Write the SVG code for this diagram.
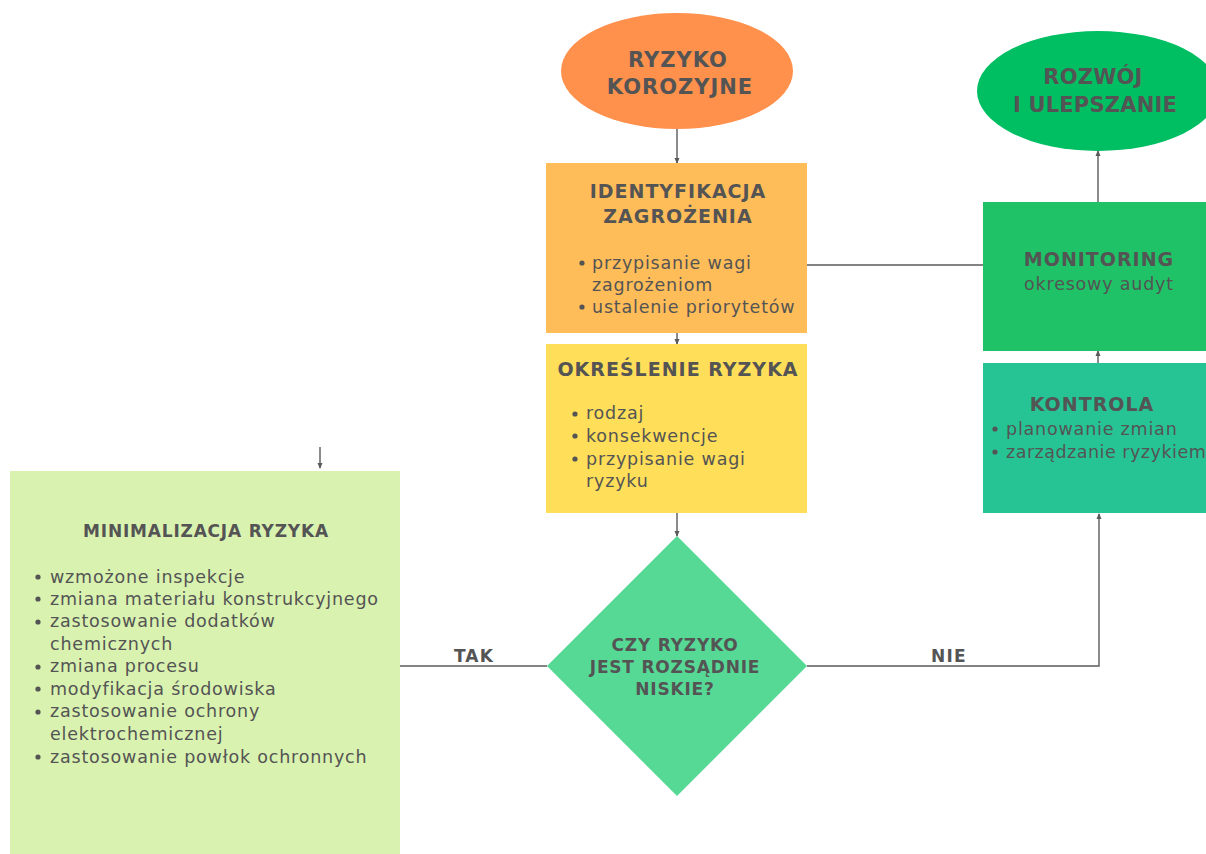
<svg xmlns="http://www.w3.org/2000/svg" width="1206" height="854" viewBox="0 0 1206 854">
  <style>
    text { font-family: "DejaVu Sans", "Open Sans", sans-serif; fill: #545454; }
    .h { font-weight: bold; text-anchor: middle; }
    .big { font-size: 21px; letter-spacing: 1px; }
    .big2 { font-size: 21px; letter-spacing: 0.2px; }
    .mid { font-size: 19px; letter-spacing: 1px; }
    .sm { font-size: 17px; letter-spacing: 0.8px; }
    .b { font-size: 17.5px; letter-spacing: 0.8px; }
    .lbl { font-size: 17px; letter-spacing: 1.2px; font-weight: bold; text-anchor: middle; }
    .conn { fill: none; stroke: #5a5a5a; stroke-width: 1.4; }
    .dot { fill: #545454; }
  </style>
  <defs>
    <marker id="arr" viewBox="0 0 6 6" refX="5" refY="3" markerWidth="6" markerHeight="6" orient="auto" markerUnits="userSpaceOnUse">
      <path d="M0,0.5 L6,3 L0,5.5 Z" fill="#5a5a5a"/>
    </marker>
  </defs>
  <rect width="1206" height="854" fill="#ffffff"/>

  <!-- connectors -->
  <g id="connectors">
    <line class="conn" x1="677" y1="129" x2="677" y2="163" marker-end="url(#arr)"/>
    <line class="conn" x1="677" y1="333" x2="677" y2="344" marker-end="url(#arr)"/>
    <line class="conn" x1="677" y1="513" x2="677" y2="536" marker-end="url(#arr)"/>
    <line class="conn" x1="320" y1="447" x2="320" y2="468" marker-end="url(#arr)"/>
    <line class="conn" x1="400" y1="666" x2="547" y2="666"/>
    <polyline class="conn" points="807,666 1099,666 1099,514" marker-end="url(#arr)"/>
    <line class="conn" x1="1098" y1="363" x2="1098" y2="351" marker-end="url(#arr)"/>
    <line class="conn" x1="807" y1="265" x2="983" y2="265"/>
    <line class="conn" x1="1098" y1="202" x2="1098" y2="151" marker-end="url(#arr)"/>
    <text class="lbl" x="474" y="662">TAK</text>
    <text class="lbl" x="949" y="662">NIE</text>
  </g>

  <g id="ryzyko-korozyjne">
    <ellipse cx="677" cy="71" rx="116" ry="58" fill="#FF914D"/>
    <text class="h big" x="678" y="67">RYZYKO</text>
    <text class="h big" x="680" y="94">KOROZYJNE</text>
  </g>

  <g id="rozwoj">
    <ellipse cx="1098" cy="91" rx="121" ry="60" fill="#00BF63"/>
    <text class="h big2" x="1093" y="84">ROZWÓJ</text>
    <text class="h big2" x="1095" y="112">I ULEPSZANIE</text>
  </g>

  <g id="identyfikacja">
    <rect x="546" y="163" width="261" height="170" fill="#FFBD59"/>
    <text class="h mid" x="678" y="198">IDENTYFIKACJA</text>
    <text class="h mid" x="678" y="223">ZAGROŻENIA</text>
    <circle class="dot" cx="582" cy="263" r="2.6"/>
    <text class="b" x="592" y="269">przypisanie wagi</text>
    <text class="b" x="592" y="291">zagrożeniom</text>
    <circle class="dot" cx="582" cy="307" r="2.6"/>
    <text class="b" x="592" y="313">ustalenie priorytetów</text>
  </g>

  <g id="okreslenie">
    <rect x="546" y="344" width="261" height="169" fill="#FFDE59"/>
    <text class="h mid" x="678" y="376">OKREŚLENIE RYZYKA</text>
    <circle class="dot" cx="575" cy="414" r="2.6"/>
    <text class="b" x="586" y="419">rodzaj</text>
    <circle class="dot" cx="575" cy="436" r="2.6"/>
    <text class="b" x="586" y="442">konsekwencje</text>
    <circle class="dot" cx="575" cy="459" r="2.6"/>
    <text class="b" x="586" y="465">przypisanie wagi</text>
    <text class="b" x="586" y="487">ryzyku</text>
  </g>

  <g id="decyzja">
    <polygon points="677,536 807,666 677,796 547,666" fill="#57D996"/>
    <text class="h sm" x="675" y="651">CZY RYZYKO</text>
    <text class="h sm" x="675" y="673">JEST ROZSĄDNIE</text>
    <text class="h sm" x="675" y="695">NISKIE?</text>
  </g>

  <g id="minimalizacja">
    <rect x="10" y="471" width="390" height="383" fill="#D9F2B0"/>
    <text class="h sm" x="206" y="537">MINIMALIZACJA RYZYKA</text>
    <circle class="dot" cx="38" cy="577" r="2.6"/>
    <text class="b" x="50" y="583">wzmożone inspekcje</text>
    <circle class="dot" cx="38" cy="599" r="2.6"/>
    <text class="b" x="50" y="605">zmiana materiału konstrukcyjnego</text>
    <circle class="dot" cx="38" cy="622" r="2.6"/>
    <text class="b" x="50" y="627">zastosowanie dodatków</text>
    <text class="b" x="50" y="650">chemicznych</text>
    <circle class="dot" cx="38" cy="667" r="2.6"/>
    <text class="b" x="50" y="672">zmiana procesu</text>
    <circle class="dot" cx="38" cy="689" r="2.6"/>
    <text class="b" x="50" y="695">modyfikacja środowiska</text>
    <circle class="dot" cx="38" cy="712" r="2.6"/>
    <text class="b" x="50" y="717">zastosowanie ochrony</text>
    <text class="b" x="50" y="740">elektrochemicznej</text>
    <circle class="dot" cx="38" cy="757" r="2.6"/>
    <text class="b" x="50" y="763">zastosowanie powłok ochronnych</text>
  </g>

  <g id="kontrola">
    <rect x="983" y="363" width="223" height="150" fill="#26C495"/>
    <text class="h mid" x="1092" y="411">KONTROLA</text>
    <circle class="dot" cx="995" cy="429" r="2.6"/>
    <text class="b" x="1006" y="435">planowanie zmian</text>
    <circle class="dot" cx="995" cy="452" r="2.6"/>
    <text class="b" x="1006" y="458" style="letter-spacing:0.5px">zarządzanie ryzykiem</text>
  </g>

  <g id="monitoring">
    <rect x="983" y="202" width="223" height="149" fill="#1FC266"/>
    <text class="h mid" x="1099" y="266">MONITORING</text>
    <text class="b" x="1099" y="290" text-anchor="middle">okresowy audyt</text>
  </g>
</svg>
